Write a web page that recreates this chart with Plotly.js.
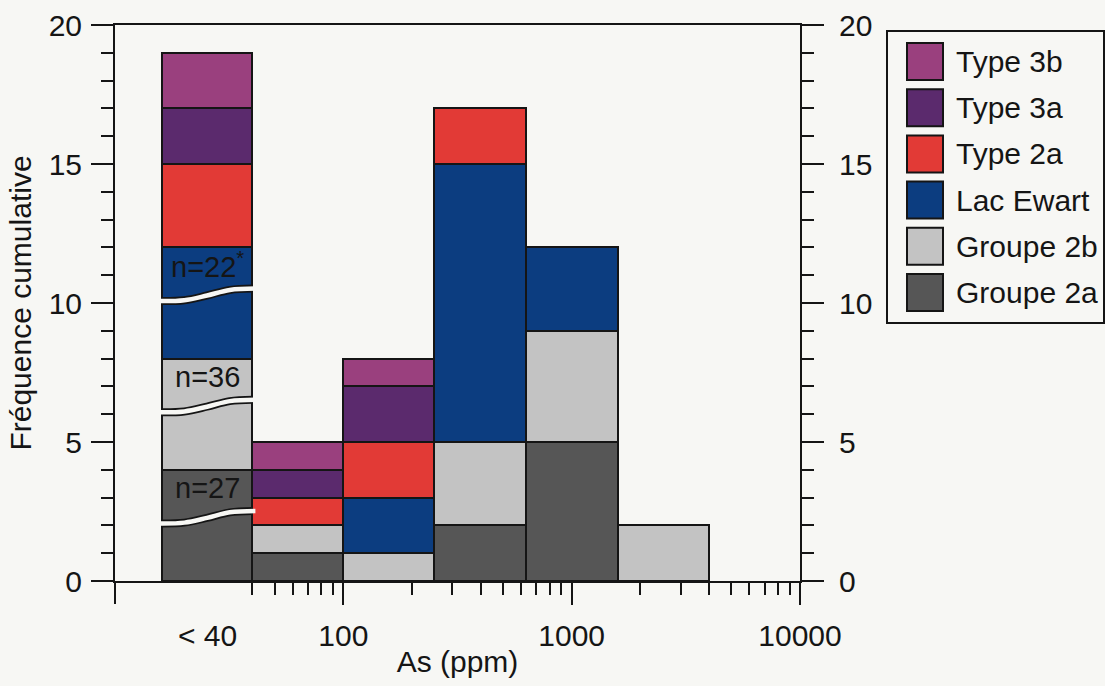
<!DOCTYPE html>
<html>
<head>
<meta charset="utf-8">
<script src="https://cdn.plot.ly/plotly-3.0.1.min.js"></script>
<style>
  html, body { margin: 0; padding: 0; background: #f7f7f4; }
  #chart { width: 1105px; height: 686px; }
</style>
</head>
<body>
<div id="chart"></div>
<script>
// ---------------- data ----------------
const binEdges = [16, 40, 100, 250, 630, 1600, 4000];   // As (ppm), log-spaced bins
const firstBinLabel = "< 40";
const xTickVals = [100, 1000, 10000];
const xTickText = ["100", "1000", "10000"];
const xMinorTicks = [40, 50, 60, 70, 80, 90,
                     200, 300, 400, 500, 600, 700, 800, 900,
                     2000, 3000, 4000, 5000, 6000, 7000, 8000, 9000];
const yTickVals = [0, 5, 10, 15, 20];

// counts per bin (stack order bottom -> top)
const groupe2a = [27, 1, 0, 2, 5, 0];
const groupe2b = [36, 1, 1, 3, 4, 2];
const lacEwart = [22, 0, 2, 10, 3, 0];
const type2a   = [3, 1, 2, 2, 0, 0];
const type3a   = [2, 1, 2, 0, 0, 0];
const type3b   = [2, 1, 1, 0, 0, 0];

const seriesNames = ["Groupe 2a", "Groupe 2b", "Lac Ewart", "Type 2a", "Type 3a", "Type 3b"];
const seriesData  = [groupe2a, groupe2b, lacEwart, type2a, type3a, type3b];
const seriesNotes = ["", "", "*", "", "", ""];
const brokenBin = 0;  // the "< 40" bin is drawn with axis breaks
const breakCap = 4;   // counts above this (in the broken bin) are drawn truncated

// ---------------- styles ----------------
const colors = {
  "Groupe 2a": "#565656",
  "Groupe 2b": "#c3c3c3",
  "Lac Ewart": "#0c3d80",
  "Type 2a":   "#e23a36",
  "Type 3a":   "#5b2a6d",
  "Type 3b":   "#9a407e"
};
const FONT = "Liberation Sans, Arial, Helvetica, sans-serif";
const INK = "#151515";
const BG = "#f7f7f4";
const FS = 30;

const W = 1105, H = 686;
const M = {l: 115, r: 305, t: 25, b: 105};
const plotW = W - M.l - M.r, plotH = H - M.t - M.b;
const px2paperX = p => (p - M.l) / plotW;
const px2paperY = p => (H - M.b - p) / plotH;

// ---------------- derived ----------------
const nBins = binEdges.length - 1;
const lo = binEdges.slice(0, -1), hi = binEdges.slice(1);
const centersLog = lo.map((v, i) => (Math.log10(v) + Math.log10(hi[i])) / 2);
const widthsLog  = lo.map((v, i) => Math.log10(hi[i]) - Math.log10(v));

const traces = [];
const annotations = [];
const cumBase = new Array(nBins).fill(0);
const breakTraces = [];

seriesData.forEach((vals, s) => {
  const shown = vals.map((v, i) => (i === brokenBin && v > breakCap) ? breakCap : v);
  traces.push({
    type: "bar",
    name: seriesNames[s],
    x: centersLog,
    y: shown.map(v => v === 0 ? null : v),
    width: widthsLog,
    xaxis: "x", yaxis: "y",
    marker: {color: colors[seriesNames[s]], line: {color: INK, width: 2}},
    hoverinfo: "skip",
    showlegend: false
  });
  vals.forEach((v, i) => {
    if (i === brokenBin && v > breakCap) {
      const base = cumBase[i];
      const ts = [0, 0.25, 0.5, 0.75, 1];
      const offs = [-0.25, -0.22, -0.05, 0.15, 0.2];
      const yMid = base + 0.58 * breakCap;
      const bx = ts.map(t => lo[i] * Math.pow(hi[i] / lo[i], t));
      const by = offs.map(o => yMid + o);
      breakTraces.push({
        type: "scatter", mode: "lines", x: bx, y: by, xaxis: "x2", yaxis: "y2",
        line: {color: INK, width: 8, shape: "spline"}, hoverinfo: "skip", showlegend: false
      });
      const wx = bx.slice(); wx[0] = lo[i] * 0.97; wx[wx.length - 1] = hi[i] * 1.03;
      breakTraces.push({
        type: "scatter", mode: "lines", x: wx, y: by, xaxis: "x2", yaxis: "y2",
        line: {color: BG, width: 4.5, shape: "spline"}, hoverinfo: "skip", showlegend: false
      });
      annotations.push({
        xref: "x", yref: "y", x: centersLog[i], y: base + 3.35,
        text: "n=" + v + (seriesNotes[s] ? "<sup>" + seriesNotes[s] + "</sup>" : ""),
        showarrow: false, font: {family: FONT, size: 29, color: INK},
        xanchor: "center", yanchor: "middle"
      });
    }
    cumBase[i] += shown[i];
  });
});

// "< 40" category label under the first bin
annotations.push({
  xref: "x", yref: "paper", x: centersLog[0], y: px2paperY(635),
  text: firstBinLabel, showarrow: false,
  font: {family: FONT, size: FS, color: INK}, xanchor: "center", yanchor: "middle"
});

// ---------------- custom legend (top -> bottom) ----------------
const shapes = [];
const legendOrder = seriesNames.slice().reverse();
shapes.push({
  type: "rect", xref: "paper", yref: "paper",
  x0: px2paperX(887), x1: px2paperX(1104), y0: px2paperY(323), y1: px2paperY(31),
  line: {color: INK, width: 2}, fillcolor: "rgba(0,0,0,0)"
});
legendOrder.forEach((name, k) => {
  const top = 43 + k * 46.2, bot = top + 37;
  shapes.push({
    type: "rect", xref: "paper", yref: "paper",
    x0: px2paperX(907), x1: px2paperX(943), y0: px2paperY(bot), y1: px2paperY(top),
    line: {color: INK, width: 2}, fillcolor: colors[name]
  });
  annotations.push({
    xref: "paper", yref: "paper", x: px2paperX(954), y: px2paperY((top + bot) / 2),
    text: name, showarrow: false, xanchor: "left", yanchor: "middle",
    font: {family: FONT, size: FS, color: INK}
  });
});

const axisCommon = {
  showgrid: false, zeroline: false, showline: true, linecolor: INK, linewidth: 2,
  ticks: "outside", tickcolor: INK, tickwidth: 2, ticklen: 22,
  tickfont: {family: FONT, size: FS, color: INK}
};

const layout = {
  width: W, height: H,
  margin: M,
  paper_bgcolor: BG, plot_bgcolor: BG,
  barmode: "stack", bargap: 0,
  showlegend: false,
  xaxis: {
    type: "linear", range: [1, 4], fixedrange: true,
    showline: false, showgrid: false, zeroline: false, showticklabels: false,
    tickmode: "array", tickvals: [1], ticks: "outside", ticklen: 22, tickwidth: 2, tickcolor: INK
  },
  xaxis2: Object.assign({}, axisCommon, {
    type: "log", range: [1, 4], overlaying: "x", side: "bottom", mirror: true,
    tickmode: "array", tickvals: xTickVals, ticktext: xTickText, ticklabelstandoff: 5,
    minor: {tickmode: "array", tickvals: xMinorTicks, ticks: "outside", ticklen: 12, tickwidth: 2, tickcolor: INK},
    title: {text: "As (ppm)", font: {family: FONT, size: FS, color: INK}, standoff: 0}
  }),
  yaxis: Object.assign({}, axisCommon, {
    range: [0, 20], tickmode: "array", tickvals: yTickVals, ticklabelstandoff: 3,
    minor: {dtick: 1, ticks: "outside", ticklen: 12, tickwidth: 2, tickcolor: INK},
    title: {text: "Fréquence cumulative", font: {family: FONT, size: FS, color: INK}, standoff: 8}
  }),
  yaxis2: Object.assign({}, axisCommon, {
    range: [0, 20], overlaying: "y", side: "right", tickmode: "array", tickvals: yTickVals,
    ticklabelstandoff: 9,
    minor: {dtick: 1, ticks: "outside", ticklen: 12, tickwidth: 2, tickcolor: INK}
  }),
  shapes: shapes,
  annotations: annotations
};

Plotly.newPlot("chart", traces.concat(breakTraces), layout, {displayModeBar: false, staticPlot: true});
</script>
</body>
</html>
